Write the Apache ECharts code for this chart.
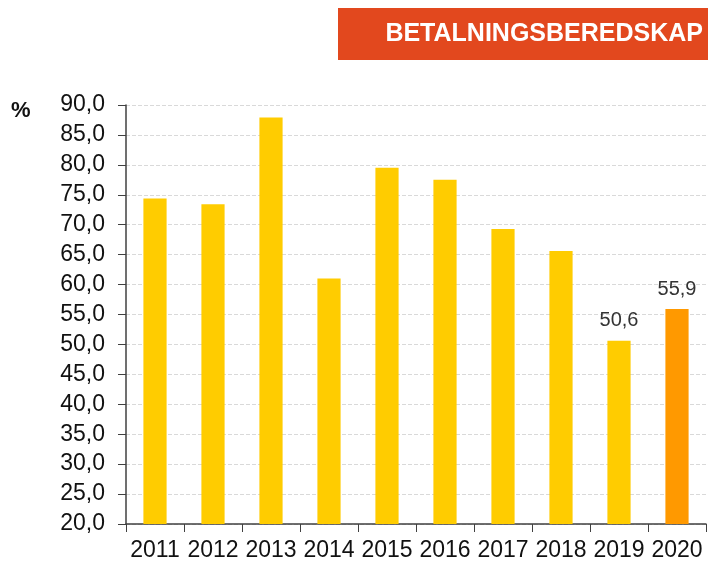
<!DOCTYPE html>
<html>
<head>
<meta charset="utf-8">
<script src="https://cdn.jsdelivr.net/npm/echarts@6/dist/echarts.min.js"></script>
<style>
html, body { margin: 0; padding: 0; background: #fff; }
#main { width: 708px; height: 562px; }
</style>
</head>
<body>
<div id="main"></div>
<script>
var years = ['2011', '2012', '2013', '2014', '2015', '2016', '2017', '2018', '2019', '2020'];
var values = [74.4, 73.4, 87.9, 61.0, 79.5, 77.5, 69.3, 65.6, 50.6, 55.9];
var labelled = ['2019', '2020'];
var highlight = '2020';

var chart = echarts.init(document.getElementById('main'));

var data = values.map(function (v, i) {
    return {
        value: v,
        itemStyle: { color: years[i] === highlight ? '#FF9900' : '#FFCC00' },
        label: { show: labelled.indexOf(years[i]) >= 0 }
    };
});

chart.setOption({
    animation: false,
    textStyle: { fontFamily: 'Liberation Sans, Arial, sans-serif' },
    graphic: [
        { type: 'rect', shape: { x: 338, y: 8, width: 370, height: 52 }, style: { fill: '#E2481E' } },
        { type: 'text', style: { x: 703, y: 34, text: 'BETALNINGSBEREDSKAP', fill: '#fff',
            font: 'bold 25px Liberation Sans, Arial, sans-serif', align: 'right', verticalAlign: 'middle' } },
        { type: 'text', style: { x: 11, y: 111, text: '%', fill: '#111',
            font: 'bold 22px Liberation Sans, Arial, sans-serif', align: 'left', verticalAlign: 'middle' } }
    ],
    grid: { left: 126, right: 2, top: 105, bottom: 38 },
    xAxis: {
        type: 'category',
        data: years,
        axisLine: { lineStyle: { color: '#404040', width: 1.5 } },
        axisTick: { show: true, interval: 0, length: 8, lineStyle: { color: '#404040' } },
        axisLabel: { interval: 0, hideOverlap: false, color: '#111', fontSize: 23, margin: 15 }
    },
    yAxis: {
        type: 'value',
        min: 20,
        max: 90,
        interval: 5,
        axisLine: { show: true, lineStyle: { color: '#404040', width: 1.5 } },
        axisTick: { show: true, length: 8, lineStyle: { color: '#404040' } },
        axisLabel: {
            color: '#111', fontSize: 23, margin: 21,
            formatter: function (v) { return v.toFixed(1).replace('.', ','); }
        },
        splitLine: { lineStyle: { color: '#d9d9d9', type: 'dashed' } }
    },
    series: [{
        type: 'bar',
        data: data,
        barWidth: '40%',
        label: {
            position: 'top',
            distance: 10,
            color: '#333',
            fontSize: 20,
            formatter: function (p) { return p.value.toFixed(1).replace('.', ','); }
        }
    }]
});
</script>
</body>
</html>
